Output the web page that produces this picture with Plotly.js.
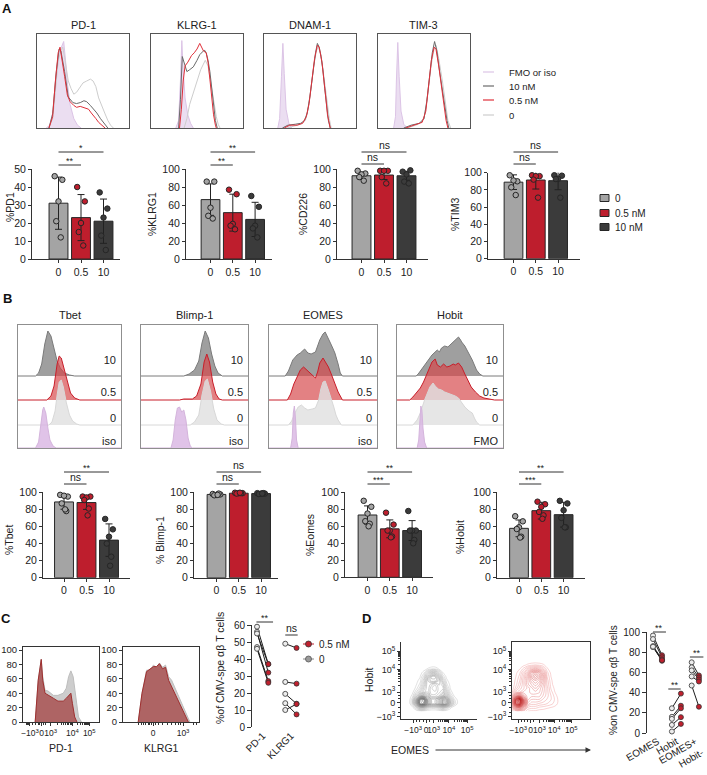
<!DOCTYPE html>
<html><head><meta charset="utf-8">
<script src="https://cdn.plot.ly/plotly-3.0.1.min.js"></script>
<style>html,body{margin:0;padding:0;background:#fff}#plot{width:707px;height:775px}</style>
</head><body><div id="plot"></div>
<script>
// ================= DATA =================
const groups = ['0', '0.5', '10'];
const legendA = ['FMO or iso', '10 nM', '0.5 nM', '0'];
const legendBars = ['0', '0.5 nM', '10 nM'];
const histA_titles = ['PD-1', 'KLRG-1', 'DNAM-1', 'TIM-3'];
const histB_titles = ['Tbet', 'Blimp-1', 'EOMES', 'Hobit'];
const ridgeLabels = ['10', '0.5', '0'];
const ridgeLastLabel = ['iso', 'iso', 'iso', 'FMO'];

// Panel A histograms [normalised fluorescence, % of max]
const hA_PD1_fmo = [[0.1,0],[0.14,3],[0.18,20],[0.21,55],[0.24,80],[0.27,88],[0.29,92],[0.31,72],[0.33,48],[0.36,25],[0.4,10],[0.44,3],[0.48,0]];
const hA_PD1_0 = [[0.13,0],[0.17,10],[0.2,40],[0.23,72],[0.26,82],[0.28,86],[0.3,75],[0.34,50],[0.37,42],[0.4,36],[0.43,38],[0.47,44],[0.5,48],[0.54,50],[0.58,52],[0.61,50],[0.64,44],[0.67,32],[0.7,24],[0.74,15],[0.77,8],[0.8,3],[0.83,0]];
const hA_PD1_10 = [[0.13,0],[0.17,15],[0.21,60],[0.24,84],[0.26,82],[0.3,60],[0.34,33],[0.39,27],[0.43,26],[0.47,27],[0.51,29],[0.54,28],[0.58,24],[0.62,20],[0.65,16],[0.69,10],[0.72,6],[0.75,2],[0.77,0]];
const hA_PD1_05 = [[0.13,0],[0.17,12],[0.2,50],[0.23,80],[0.25,86],[0.28,70],[0.3,55],[0.33,35],[0.36,28],[0.4,24],[0.43,22],[0.47,23],[0.5,22],[0.53,21],[0.56,20],[0.59,16],[0.61,14],[0.64,10],[0.67,6],[0.71,2],[0.74,0]];

const hA_KLRG_fmo = [[0.27,0],[0.3,8],[0.32,50],[0.335,93],[0.35,62],[0.37,32],[0.4,14],[0.43,5],[0.46,0]];
const hA_KLRG_0 = [[0.36,0],[0.39,10],[0.42,25],[0.45,34],[0.48,45],[0.51,52],[0.54,62],[0.57,68],[0.59,72],[0.62,66],[0.65,50],[0.68,30],[0.71,12],[0.73,4],[0.75,0]];
const hA_KLRG_10 = [[0.3,0],[0.32,30],[0.34,76],[0.36,70],[0.39,60],[0.42,62],[0.46,65],[0.5,72],[0.53,78],[0.56,81],[0.58,83],[0.6,80],[0.62,72],[0.64,60],[0.66,42],[0.68,20],[0.7,8],[0.72,0]];
const hA_KLRG_05 = [[0.31,0],[0.33,20],[0.35,50],[0.37,66],[0.4,70],[0.44,77],[0.47,80],[0.5,84],[0.53,90],[0.55,86],[0.57,82],[0.6,80],[0.62,70],[0.64,52],[0.66,32],[0.68,14],[0.7,3],[0.71,0]];

const hA_DNAM_fmo = [[0.15,0],[0.17,10],[0.19,55],[0.205,90],[0.22,58],[0.24,20],[0.27,5],[0.3,0]];
const hA_DNAM_0 = [[0.25,0],[0.33,2],[0.4,4],[0.45,8],[0.48,20],[0.51,42],[0.54,66],[0.57,82],[0.59,86],[0.62,78],[0.65,56],[0.68,30],[0.71,10],[0.73,0]];
const hA_DNAM_10 = [[0.2,0],[0.26,3],[0.34,4],[0.4,5],[0.44,8],[0.47,16],[0.5,34],[0.53,58],[0.56,80],[0.58,90],[0.6,86],[0.62,76],[0.64,62],[0.66,42],[0.68,22],[0.7,8],[0.72,0]];
const hA_DNAM_05 = [[0.22,0],[0.28,3],[0.36,3],[0.42,5],[0.46,12],[0.49,26],[0.52,50],[0.55,74],[0.58,88],[0.6,86],[0.63,70],[0.65,54],[0.67,34],[0.69,14],[0.71,3],[0.72,0]];

const hA_TIM3_fmo = [[0.17,0],[0.19,12],[0.2,50],[0.215,91],[0.23,55],[0.25,18],[0.28,4],[0.32,0]];
const hA_TIM3_0 = [[0.32,0],[0.44,4],[0.5,10],[0.54,35],[0.58,68],[0.61,84],[0.63,88],[0.66,74],[0.7,50],[0.73,28],[0.76,8],[0.79,0]];
const hA_TIM3_10 = [[0.28,0],[0.36,3],[0.45,5],[0.5,10],[0.53,28],[0.56,55],[0.59,80],[0.615,92],[0.64,82],[0.67,60],[0.7,40],[0.73,22],[0.75,8],[0.77,0]];
const hA_TIM3_05 = [[0.3,0],[0.4,3],[0.48,6],[0.52,18],[0.55,45],[0.58,72],[0.61,86],[0.63,84],[0.66,66],[0.69,45],[0.72,24],[0.74,8],[0.76,0]];

// Panel A bars
const A_PD1_mean = [31, 23, 21], A_PD1_sd = [14.5, 12.8, 12.3];
const A_PD1_p0 = [46, 44, 32, 21, 12], A_PD1_p05 = [40, 32, 20, 15, 7.5], A_PD1_p10 = [37, 28, 23, 13, 5];
const A_KLRG1_mean = [66, 51.5, 44], A_KLRG1_sd = [17.5, 20.5, 19];
const A_KLRG1_p0 = [86, 86, 57, 48, 45], A_KLRG1_p05 = [77, 72, 39, 37, 33], A_KLRG1_p10 = [70, 58, 37, 34, 24];
const A_CD226_mean = [92.5, 93.3, 92.5], A_CD226_sd = [4, 5, 5];
const A_CD226_p0 = [98, 95, 94, 91, 87], A_CD226_p05 = [98, 98, 98, 91, 84], A_CD226_p10 = [97, 98.5, 94, 86, 84];
const A_TIM3_mean = [89, 91.5, 90.7], A_TIM3_sd = [8.5, 10.5, 10.5];
const A_TIM3_p0 = [97, 90, 91, 83, 74], A_TIM3_p05 = [97, 96, 96, 92, 71], A_TIM3_p10 = [97, 96.5, 93, 92.6, 71];

// Panel B ridgelines [normalised fluorescence, height]
const bT_10 = [[0.17,0],[0.2,3],[0.23,12],[0.26,32],[0.29,45],[0.32,40],[0.35,28],[0.38,15],[0.41,8],[0.45,3],[0.5,1],[0.55,0]];
const bT_05 = [[0.28,0],[0.32,4],[0.35,14],[0.38,36],[0.4,44],[0.42,42],[0.45,30],[0.48,16],[0.51,7],[0.55,2],[0.6,0]];
const bT_0 = [[0.3,0],[0.33,3],[0.36,14],[0.38,30],[0.4,43],[0.42,45],[0.44,38],[0.47,22],[0.5,10],[0.53,4],[0.57,1],[0.6,0]];
const bT_iso = [[0.17,0],[0.2,6],[0.22,25],[0.24,38],[0.25,41],[0.27,35],[0.29,20],[0.31,8],[0.34,2],[0.37,0]];
const bB_10 = [[0.4,0],[0.45,2],[0.5,6],[0.54,15],[0.57,33],[0.6,45],[0.63,38],[0.66,22],[0.69,10],[0.72,3],[0.76,0]];
const bB_05 = [[0.36,0],[0.4,1],[0.48,1],[0.52,4],[0.56,16],[0.59,38],[0.615,46],[0.64,38],[0.67,18],[0.7,6],[0.73,1],[0.76,0]];
const bB_0 = [[0.46,0],[0.5,3],[0.54,10],[0.57,30],[0.6,44],[0.62,46],[0.65,34],[0.68,16],[0.71,5],[0.75,1],[0.78,0]];
const bB_iso = [[0.28,0],[0.3,8],[0.32,28],[0.34,40],[0.36,41],[0.38,36],[0.4,38],[0.42,28],[0.44,10],[0.46,2],[0.48,0]];
const bE_10 = [[0.15,0],[0.18,5],[0.22,16],[0.26,21],[0.29,23],[0.33,27],[0.36,23],[0.39,22],[0.43,24],[0.47,36],[0.5,42],[0.52,44],[0.54,40],[0.56,35],[0.59,28],[0.61,23],[0.64,12],[0.66,3],[0.68,0]];
const bE_05 = [[0.17,0],[0.2,6],[0.23,16],[0.26,23],[0.29,30],[0.32,33],[0.35,30],[0.38,27],[0.41,23],[0.43,22],[0.45,28],[0.47,37],[0.5,42],[0.52,38],[0.55,33],[0.58,25],[0.61,17],[0.64,8],[0.68,0]];
const bE_0 = [[0.18,0],[0.21,4],[0.24,12],[0.27,18],[0.3,20],[0.33,17],[0.36,15],[0.4,16],[0.43,17],[0.46,25],[0.48,36],[0.5,43],[0.52,44],[0.55,35],[0.58,26],[0.6,18],[0.62,10],[0.64,5],[0.67,0]];
const bE_iso = [[0.2,0],[0.215,10],[0.225,35],[0.235,42],[0.245,30],[0.255,8],[0.27,0]];
const bH_10 = [[0.18,0],[0.2,2],[0.24,8],[0.28,13],[0.33,21],[0.38,26],[0.4,24],[0.42,28],[0.45,30],[0.48,29],[0.5,31],[0.53,34],[0.56,36],[0.58,39],[0.6,36],[0.61,34],[0.64,30],[0.66,26],[0.69,20],[0.71,16],[0.75,6],[0.78,2],[0.81,0]];
const bH_05 = [[0.12,0],[0.15,3],[0.18,7],[0.22,12],[0.25,18],[0.29,28],[0.33,38],[0.36,41],[0.38,35],[0.41,33],[0.44,36],[0.47,33],[0.5,34],[0.53,36],[0.55,35],[0.58,37],[0.61,33],[0.64,26],[0.67,20],[0.7,13],[0.74,8],[0.78,4],[0.82,2],[0.88,1],[0.92,0]];
const bH_0 = [[0.15,0],[0.19,5],[0.22,12],[0.26,25],[0.29,34],[0.31,38],[0.34,42],[0.36,39],[0.39,36],[0.42,35],[0.45,33],[0.48,32],[0.52,30],[0.55,29],[0.58,27],[0.61,23],[0.64,18],[0.68,14],[0.71,12],[0.73,7],[0.75,3],[0.78,0]];
const bH_fmo = [[0.19,0],[0.205,8],[0.215,30],[0.225,42],[0.235,38],[0.245,20],[0.26,6],[0.28,0]];

// Panel B bars
const B_Tbet_mean = [88.7, 88, 44], B_Tbet_sd = [8.5, 8, 19];
const B_Tbet_p0 = [97, 95, 96, 87, 78, 80], B_Tbet_p05 = [95, 95, 94, 91, 81, 73], B_Tbet_p10 = [68.8, 56.6, 48, 40, 24.6, 14];
const B_Blimp_mean = [97.5, 99, 98.5], B_Blimp_sd = [1, 0.5, 0.5];
const B_Blimp_p0 = [98, 97.5, 97, 96.5, 98.5, 97], B_Blimp_p05 = [99.5, 99, 99, 98.5, 99, 99.5], B_Blimp_p10 = [99, 98.5, 98.5, 98, 99, 98.5];
const B_Eomes_mean = [73.3, 57, 55], B_Eomes_sd = [10.7, 10.5, 11.7];
const B_Eomes_p0 = [90, 83, 75, 66, 63, 60], B_Eomes_p05 = [76, 62, 55, 55, 48, 47], B_Eomes_p10 = [78, 55, 55, 55, 44, 40];
const B_Hobit_mean = [57.8, 78.5, 73.8], B_Hobit_sd = [9.8, 9.8, 14.5];
const B_Hobit_p0 = [72, 66, 59, 57, 48, 47], B_Hobit_p05 = [89, 86, 83, 77, 73, 69], B_Hobit_p10 = [90, 87, 79, 70, 59, 59];

// Panel C histograms [normalised fluorescence, count]
const cPD1_0 = [[0.16,0],[0.2,58],[0.24,87],[0.26,63],[0.29,44],[0.33,43],[0.4,37],[0.46,37],[0.53,40],[0.57,47],[0.6,63],[0.63,71],[0.66,63],[0.7,30],[0.73,7],[0.77,0]];
const cPD1_05 = [[0.16,0],[0.2,58],[0.24,87],[0.26,58],[0.29,40],[0.33,37],[0.4,33],[0.46,29],[0.53,29],[0.57,33],[0.6,37],[0.63,40],[0.65,26],[0.68,7],[0.71,0]];
const cKLRG1_0 = [[0.2,0],[0.25,40],[0.31,72],[0.36,72],[0.4,79],[0.44,76],[0.48,82],[0.52,76],[0.56,79],[0.6,63],[0.64,58],[0.7,44],[0.75,30],[0.82,14],[0.88,0]];
const cKLRG1_05 = [[0.2,0],[0.25,40],[0.31,70],[0.36,74],[0.4,77],[0.44,77],[0.48,81],[0.52,74],[0.56,76],[0.6,58],[0.64,49],[0.7,35],[0.75,23],[0.82,9],[0.86,0]];
// Panel C paired
const C_cats = ['PD-1', 'KLRG1'];
const C_PD1_0 = [59, 56, 55, 47, 46], C_PD1_05 = [37, 32, 37, 27, 26];
const C_KLRG1_0 = [49, 26.5, 19.5, 14, 10], C_KLRG1_05 = [46.5, 25.5, 13.7, 7.4, 13.5];

// Panel D contour density grids
const D_gray_x = [0.10,0.15,0.20,0.25,0.30,0.35,0.40,0.45,0.50,0.55,0.60,0.65,0.70,0.75,0.80];
const D_gray_y = [0.10,0.15,0.20,0.25,0.30,0.35,0.40,0.45,0.50,0.55,0.60,0.65,0.70,0.75];
const D_gray_z = [
 [0,0,0,0.3,0.3,0,0,0,0,0.2,0,0,0,0,0],
 [0,0.2,1.2,3,3,1.5,1,1,1.5,2.5,1.5,0.5,0,0,0],
 [0,1,4,8.5,9,6,4.5,4.5,5.5,7,6,3,1,0.2,0],
 [0,1,4,8.5,9.5,6,4.5,4.5,5.5,7,5.5,2.5,0.8,0.2,0],
 [0,0.5,2,4,5,4.5,3,3,3.5,4.5,3,1.2,0.3,0,0],
 [0,0.2,1,2,3,3.5,2.5,2.5,3,3.5,2,0.6,0,0,0],
 [0,0,0.5,1.2,2.5,3.5,2.5,2.2,3,3,1.3,0.3,0,0,0],
 [0,0,0.3,0.8,2,3.5,3,2.5,3.2,2.5,0.8,0.2,0,0,0],
 [0,0,0.2,0.5,1.6,3.5,4.5,4.5,3.5,1.8,0.5,0,0,0,0],
 [0,0,0,0.3,1.2,3,4.6,4.6,3,1,0.2,0,0,0,0],
 [0,0,0,0.1,0.6,1.8,2.8,2.8,1.6,0.4,0,0,0,0,0],
 [0,0,0,0,0.1,0.4,0.7,0.7,0.3,0,0,0,0,0,0],
 [0,0,0,0,0,0,0,0,0,0,0,0,0,0,0],
 [0,0,0,0,0,0,0,0,0,0,0,0,0,0,0]];
const D_red_x = [0,0.05,0.10,0.15,0.20,0.25,0.30,0.35,0.40,0.45,0.50,0.55,0.60,0.65,0.70];
const D_red_y = [0.10,0.15,0.20,0.25,0.30,0.35,0.40,0.45,0.50,0.55,0.60,0.65,0.70,0.75];
const D_red_z = [
 [0,1,1.5,1,0.3,0.2,0.2,0.1,0.1,0,0,0,0,0,0],
 [0.5,4,5,3,1,0.8,0.8,0.6,0.5,0.4,0.3,0.2,0,0,0],
 [1,9,11,6,2,1.5,1.5,1.3,1.2,1,0.8,0.5,0.2,0,0],
 [1,9,12,6,2.5,2,2,2,1.6,1.3,1,0.6,0.2,0,0],
 [0.5,4,5,3.5,2.5,2.5,2.5,2.5,2,1.5,1,0.5,0.1,0,0],
 [0.2,1.5,2,2.5,2.5,3,3,2.8,2.2,1.5,0.8,0.3,0,0,0],
 [0,0.8,1.5,2,2.5,3,3.5,3,2.3,1.5,0.6,0.2,0,0,0],
 [0,0.5,1.2,2,3,3.5,4,3.5,2.5,1.3,0.5,0,0,0,0],
 [0,0.4,1,2,3,4,4.5,4,2.8,1.2,0.4,0,0,0,0],
 [0,0.3,0.8,1.8,3,4.5,5.5,4.5,3,1,0.3,0,0,0,0],
 [0,0.2,0.6,1.5,2.5,4,4.5,4,2.5,0.8,0.2,0,0,0,0],
 [0,0,0.3,0.8,1.5,2,2.3,2,1.3,0.4,0,0,0,0,0],
 [0,0,0,0.2,0.4,0.6,0.7,0.6,0.4,0.1,0,0,0,0,0],
 [0,0,0,0,0,0,0,0,0,0,0,0,0,0,0]];
// Panel D paired
const D_cats = ['EOMES', 'Hobit', 'EOMES+<br>Hobit-'];
const D_EOMES_0 = [96.5, 93, 86, 85, 85.5], D_EOMES_05 = [77, 75, 73, 71.5, 72];
const D_Hobit_0 = [24.5, 16, 14, 8, 1.5], D_Hobit_05 = [39, 27, 24.5, 15.7, 9];
const D_EH_0 = [70, 65, 62, 56, 47], D_EH_05 = [57, 55, 53, 51, 26];

// ================= STYLE / HELPERS =================
const W = 707, H = 775;
const FONT = 'Liberation Sans, Arial, Helvetica, sans-serif';
const INK = '#222222';
const barColors = ['#a4a4a4', '#be1e2d', '#3b3b3b'];
const jitter = [-0.17, 0.17, 0.0, -0.1, 0.1, 0.05];
const traces = [];
const layout = {width: W, height: H, margin: {l:0, r:0, t:0, b:0}, showlegend: false,
  paper_bgcolor: '#fff', plot_bgcolor: 'rgba(0,0,0,0)', hovermode: false,
  font: {family: FONT, size: 10, color: INK}, annotations: [], shapes: []};
const px = x => x / W, py = y => 1 - y / H;
let nAx = 0;
function newAxes(x0, x1, y0, y1, xo, yo) {
  nAx++;
  const s = nAx === 1 ? '' : String(nAx);
  layout['xaxis' + s] = Object.assign({domain: [px(x0), px(x1)], anchor: 'y' + s, fixedrange: true, zeroline: false, showgrid: false}, xo);
  layout['yaxis' + s] = Object.assign({domain: [py(y1), py(y0)], anchor: 'x' + s, fixedrange: true, zeroline: false, showgrid: false}, yo);
  return {x: 'x' + s, y: 'y' + s};
}
function label(x, y, text, o) {
  layout.annotations.push(Object.assign({xref: 'paper', yref: 'paper', x: px(x), y: py(y), text: text,
    showarrow: false, xanchor: 'center', yanchor: 'middle', font: {size: 10.5, family: FONT, color: INK}}, o || {}));
}
function sigLine(xref, a, b, y, t) {
  layout.shapes.push({type: 'line', xref: xref, yref: 'paper', x0: a, x1: b, y0: py(y), y1: py(y), line: {color: '#333', width: 1}});
  const isStar = t.indexOf('*') >= 0;
  layout.annotations.push({xref: xref, yref: 'paper', x: (a + b) / 2, y: py(y), text: t, showarrow: false,
    xanchor: 'center', yanchor: 'bottom', yshift: isStar ? -3 : -1, font: {size: isStar ? 9 : 10.5, family: FONT, color: INK}});
}
const AXL = {showline: true, linecolor: '#333', linewidth: 1, ticks: 'outside', ticklen: 3, tickwidth: 1,
  tickcolor: '#333', tickfont: {size: 10.5, color: INK, family: FONT}};
const BOX = {showline: true, mirror: true, linecolor: '#555', linewidth: 1, ticks: '', showticklabels: false};

function histA(x0, x1, y0, y1, curves) {
  const ax = newAxes(x0, x1, y0, y1, Object.assign({range: [0, 1]}, BOX), Object.assign({range: [0, 100]}, BOX));
  const st = [
    {fill: 'toself', fillcolor: 'rgba(222,200,232,0.6)', line: '#dcc4e6'},
    {fill: 'none', line: '#cdcdcd'},
    {fill: 'none', line: '#6a6a6a'},
    {fill: 'none', line: '#e0303a'}];
  curves.forEach((c, i) => traces.push({type: 'scatter', mode: 'lines', x: c.map(d => d[0]), y: c.map(d => d[1]),
    fill: st[i].fill, fillcolor: st[i].fillcolor, line: {color: st[i].line, width: 1}, xaxis: ax.x, yaxis: ax.y}));
}

function barPanel(p) {
  const ax = newAxes(p.axisX, p.xEnd, p.yTop, p.yZero,
    Object.assign({}, AXL, {range: [(p.axisX - p.c0) / p.sp, (p.xEnd - p.c0) / p.sp], tickvals: [0, 1, 2], ticktext: groups, tickangle: 0}),
    Object.assign({}, AXL, {range: [0, p.ymax], dtick: p.dtick, tick0: 0}));
  traces.push({type: 'bar', x: [0, 1, 2], y: p.means, width: 0.84, xaxis: ax.x, yaxis: ax.y, cliponaxis: false,
    marker: {color: barColors, line: {color: '#262626', width: 1}},
    error_y: {type: 'data', array: p.sds, visible: true, color: '#222', thickness: 1, width: 3.5}});
  p.pts.forEach((vals, g) => traces.push({type: 'scatter', mode: 'markers', xaxis: ax.x, yaxis: ax.y, cliponaxis: false,
    x: vals.map((v, i) => g + jitter[i % jitter.length]), y: vals,
    marker: {size: 5.5, color: barColors[g], line: {color: '#262626', width: 1}}}));
  p.sig.forEach(s => sigLine(ax.x, s[0], s[1], s[2], s[3]));
  label(p.labX, p.labY, p.ylabel, {textangle: -90});
}

function ridge(p) {
  const h = p.y1 - p.y0;
  const ax = newAxes(p.x0, p.x1, p.y0, p.y1, Object.assign({range: [0, 1]}, BOX, {linecolor: '#8f8f8f'}),
    Object.assign({range: [0, h]}, BOX, {linecolor: '#8f8f8f'}));
  const st = [
    {base: 72, fill: 'rgba(138,138,138,0.82)', line: '#7a7a7a'},
    {base: 48, fill: 'rgba(214,70,72,0.68)', line: '#c81e2a'},
    {base: 23, fill: 'rgba(224,224,224,0.82)', line: '#d8d8d8'},
    {base: 0, fill: 'rgba(216,180,226,0.8)', line: '#d4b4dc'}];
  p.rows.forEach((r, i) => {
    const b = st[i].base;
    traces.push({type: 'scatter', mode: 'lines', xaxis: ax.x, yaxis: ax.y,
      x: [0].concat(r.map(d => d[0]), [1]), y: [b].concat(r.map(d => b + d[1]), [b]),
      fill: 'toself', fillcolor: st[i].fill, line: {color: st[i].line, width: 1}});
  });
  const lab = ridgeLabels.concat([p.last]);
  const xr = 1 - 5 / (p.x1 - p.x0);
  traces.push({type: 'scatter', mode: 'text', xaxis: ax.x, yaxis: ax.y, cliponaxis: false,
    x: lab.map(() => xr), y: [361, 393, 419, 442].map(v => p.y1 - v), text: lab,
    textposition: 'middle left', textfont: {size: 11, family: FONT, color: '#222222'}});
  label((p.x0 + p.x1) / 2, p.y0 - 10, p.title, {font: {size: 11, family: FONT, color: INK}});
}

function decade(p0, p1) { const r = []; for (let k = 2; k < 10; k++) r.push(p0 + Math.log10(k) * (p1 - p0)); return r; }
const SUP = n => '10<sup>' + n + '</sup>';
const NEG = '\u221210<sup>3</sup>';

function histC(x0, x1, y0, y1, curves, tv, tt, minor, title) {
  const ax = newAxes(x0, x1, y0, y1,
    Object.assign({}, AXL, {mirror: true, range: [0, 1], tickvals: tv, ticktext: tt, tickangle: 0, tickfont: {size: 8.5, color: INK, family: FONT},
      minor: {tickvals: minor, ticklen: 2, tickcolor: '#333', ticks: 'outside'}}),
    Object.assign({}, AXL, {mirror: true, range: [0, 104.2], dtick: 20, tickfont: {size: 9.5, color: INK, family: FONT}}));
  const st = [{fc: 'rgba(200,200,200,0.9)', lc: '#bdbdbd'}, {fc: 'rgba(165,70,70,0.78)', lc: '#9e2f2f'}];
  curves.forEach((c, i) => traces.push({type: 'scatter', mode: 'lines', xaxis: ax.x, yaxis: ax.y,
    x: c.map(d => d[0]), y: c.map(d => d[1]), fill: 'tozeroy', fillcolor: st[i].fc, line: {color: st[i].lc, width: 1}}));
  label((x0 + x1) / 2, 748, title, {font: {size: 10.5, family: FONT, color: INK}});
}

function paired(p) {
  const ax = newAxes(p.axisX, p.xEnd, p.yTop, p.yZero,
    {range: [(p.axisX - p.c0) / p.sp, (p.xEnd - p.c0) / p.sp], showline: false, ticks: '', tickvals: p.tickvals,
      ticktext: p.cats, tickangle: p.angle, tickfont: {size: 10, color: INK, family: FONT}},
    Object.assign({}, AXL, {range: [0, p.ymax], dtick: p.dtick, ticklen: 4, tickfont: {size: 10, color: INK, family: FONT}}));
  p.sets.forEach(s => {
    const xa = s[0], xb = s[1], v0 = s[2], v5 = s[3];
    const lx = [], ly = [];
    v0.forEach((v, i) => { lx.push(xa, xb, null); ly.push(v, v5[i], null); });
    traces.push({type: 'scatter', mode: 'lines', x: lx, y: ly, xaxis: ax.x, yaxis: ax.y, cliponaxis: false, line: {color: '#1e1e1e', width: 1}});
    traces.push({type: 'scatter', mode: 'markers', x: v0.map(() => xa), y: v0, xaxis: ax.x, yaxis: ax.y, cliponaxis: false,
      marker: {size: 5, color: '#ececec', line: {color: '#555', width: 1}}});
    traces.push({type: 'scatter', mode: 'markers', x: v5.map(() => xb), y: v5, xaxis: ax.x, yaxis: ax.y, cliponaxis: false,
      marker: {size: 5, color: '#c0202e', line: {color: '#333', width: 0.8}}});
  });
  p.sig.forEach(s => sigLine(ax.x, s[0], s[1], s[2], s[3]));
  label(p.labX, p.labY, p.ylabel, {textangle: -90, font: {size: p.labSize || 10.5, family: FONT, color: INK}});
}

function contourD(x0, x1, y0, y1, gx, gy, gz, colors, xtv, mirror, lvl) {
  const yt = [0.03, 0.21, 0.35, 0.64, 0.88];
  const ax = newAxes(x0, x1, y0, y1,
    Object.assign({}, AXL, {mirror: mirror, range: [0, 1], tickvals: xtv, ticktext: [NEG, '0', SUP(3), SUP(4), SUP(5)],
      tickangle: 0, tickfont: {size: 8.5, color: INK, family: FONT},
      minor: {tickvals: decade(xtv[2], xtv[3]).concat(decade(xtv[3], xtv[4]), [xtv[0] + 0.04, xtv[0] + 0.08, xtv[1] - 0.04, xtv[1] + 0.04]), ticklen: 2, ticks: 'outside', tickcolor: '#333'}}),
    Object.assign({}, AXL, {mirror: mirror, range: [0, 1], tickvals: yt, ticktext: [NEG, '0', SUP(3), SUP(4), SUP(5)],
      tickfont: {size: 9, color: INK, family: FONT},
      minor: {tickvals: decade(yt[2], yt[3]).concat(decade(yt[3], yt[4]), [0.09, 0.15, 0.26, 0.3]), ticklen: 2, ticks: 'outside', tickcolor: '#333'}}));
  traces.push({type: 'contour', x: gx, y: gy, z: gz, xaxis: ax.x, yaxis: ax.y, showscale: false,
    contours: {coloring: 'lines', start: lvl[0], end: lvl[1], size: lvl[2]},
    line: {width: 0.55, smoothing: 1.0}, colorscale: [[0, colors[0]], [1, colors[1]]]});
}

// ================= PANEL A =================
label(7, 9, '<b>A</b>', {font: {size: 13, family: FONT, color: '#111'}});
const histAData = [
  [hA_PD1_fmo, hA_PD1_0, hA_PD1_10, hA_PD1_05],
  [hA_KLRG_fmo, hA_KLRG_0, hA_KLRG_10, hA_KLRG_05],
  [hA_DNAM_fmo, hA_DNAM_0, hA_DNAM_10, hA_DNAM_05],
  [hA_TIM3_fmo, hA_TIM3_0, hA_TIM3_10, hA_TIM3_05]];
const histAx = [37, 151, 264, 378];
histAData.forEach((c, i) => {
  histA(histAx[i], histAx[i] + 92, 34, 128, c);
  label(histAx[i] + 46, 25, histA_titles[i], {font: {size: 11, family: FONT, color: INK}});
});
const legAcol = ['#dcc4e6', '#6a6a6a', '#e0303a', '#cdcdcd'];
[72, 86, 100, 115].forEach((y, i) => {
  layout.shapes.push({type: 'line', xref: 'paper', yref: 'paper', x0: px(483), x1: px(494), y0: py(y), y1: py(y), line: {color: legAcol[i], width: 1.2}});
  label(507, y, legendA[i], {xanchor: 'left', font: {size: 9.5, family: FONT, color: INK}});
});

barPanel({axisX: 32, xEnd: 120, c0: 58.5, sp: 22.5, yTop: 169, yZero: 259, ymax: 50, dtick: 10,
  means: A_PD1_mean, sds: A_PD1_sd, pts: [A_PD1_p0, A_PD1_p05, A_PD1_p10],
  sig: [[0, 1, 165, '**'], [0, 2, 152, '*']], ylabel: '%PD1', labX: 10, labY: 207});
barPanel({axisX: 186, xEnd: 272, c0: 210.5, sp: 22.3, yTop: 169, yZero: 259, ymax: 100, dtick: 20,
  means: A_KLRG1_mean, sds: A_KLRG1_sd, pts: [A_KLRG1_p0, A_KLRG1_p05, A_KLRG1_p10],
  sig: [[0, 1, 165, '**'], [0, 2, 152, '**']], ylabel: '%KLRG1', labX: 152, labY: 214});
barPanel({axisX: 337, xEnd: 428, c0: 361.5, sp: 22.5, yTop: 169, yZero: 259, ymax: 100, dtick: 20,
  means: A_CD226_mean, sds: A_CD226_sd, pts: [A_CD226_p0, A_CD226_p05, A_CD226_p10],
  sig: [[0, 1, 164, 'ns'], [0, 2, 152, 'ns']], ylabel: '%CD226', labX: 303, labY: 214});
barPanel({axisX: 488, xEnd: 580, c0: 513.5, sp: 22.3, yTop: 172.7, yZero: 258.7, ymax: 100, dtick: 20,
  means: A_TIM3_mean, sds: A_TIM3_sd, pts: [A_TIM3_p0, A_TIM3_p05, A_TIM3_p10],
  sig: [[0, 1, 164, 'ns'], [0, 2, 152, 'ns']], ylabel: '%TIM3', labX: 455, labY: 215});
[198, 213, 227].forEach((y, i) => {
  layout.shapes.push({type: 'rect', xref: 'paper', yref: 'paper', x0: px(600), x1: px(609), y0: py(y + 3.5), y1: py(y - 3.5),
    fillcolor: barColors[i], line: {color: '#262626', width: 1}});
  label(613, y, legendBars[i], {xanchor: 'left', font: {size: 10, family: FONT, color: INK}});
});

// ================= PANEL B =================
label(7, 298, '<b>B</b>', {font: {size: 13, family: FONT, color: '#111'}});
ridge({x0: 18, x1: 121, y0: 325, y1: 448, rows: [bT_10, bT_05, bT_0, bT_iso], last: ridgeLastLabel[0], title: histB_titles[0]});
ridge({x0: 141, x1: 248, y0: 325, y1: 448, rows: [bB_10, bB_05, bB_0, bB_iso], last: ridgeLastLabel[1], title: histB_titles[1]});
ridge({x0: 269, x1: 377, y0: 325, y1: 448, rows: [bE_10, bE_05, bE_0, bE_iso], last: ridgeLastLabel[2], title: histB_titles[2]});
ridge({x0: 397, x1: 503, y0: 325, y1: 448, rows: [bH_10, bH_05, bH_0, bH_fmo], last: ridgeLastLabel[3], title: histB_titles[3]});

barPanel({axisX: 43, xEnd: 130, c0: 64, sp: 22.5, yTop: 492.3, yZero: 577.7, ymax: 100, dtick: 20,
  means: B_Tbet_mean, sds: B_Tbet_sd, pts: [B_Tbet_p0, B_Tbet_p05, B_Tbet_p10],
  sig: [[0, 1, 484, 'ns'], [0, 2, 472, '**']], ylabel: '%Tbet', labX: 9, labY: 540});
barPanel({axisX: 194, xEnd: 278, c0: 216.5, sp: 22.3, yTop: 492.3, yZero: 577.7, ymax: 100, dtick: 20,
  means: B_Blimp_mean, sds: B_Blimp_sd, pts: [B_Blimp_p0, B_Blimp_p05, B_Blimp_p10],
  sig: [[0, 1, 484, 'ns'], [0, 2, 472, 'ns']], ylabel: '% Blimp-1', labX: 160, labY: 540});
barPanel({axisX: 345, xEnd: 433, c0: 367.5, sp: 22.3, yTop: 492.3, yZero: 577.3, ymax: 100, dtick: 20,
  means: B_Eomes_mean, sds: B_Eomes_sd, pts: [B_Eomes_p0, B_Eomes_p05, B_Eomes_p10],
  sig: [[0, 1, 484, '***'], [0, 2, 472, '**']], ylabel: '%Eomes', labX: 310, labY: 535});
barPanel({axisX: 497, xEnd: 585, c0: 519, sp: 22.3, yTop: 492.3, yZero: 577.7, ymax: 100, dtick: 20,
  means: B_Hobit_mean, sds: B_Hobit_sd, pts: [B_Hobit_p0, B_Hobit_p05, B_Hobit_p10],
  sig: [[0, 1, 484, '***'], [0, 2, 472, '**']], ylabel: '%Hobit', labX: 460, labY: 537});

// ================= PANEL C =================
label(6, 618, '<b>C</b>', {font: {size: 13, family: FONT, color: '#111'}});
const cTv1 = [0.092, 0.246, 0.364, 0.649, 0.872];
histC(23, 99, 647, 722, [cPD1_0, cPD1_05], cTv1, [NEG, '0', SUP(3), SUP(4), SUP(5)],
  decade(cTv1[2], cTv1[3]).concat(decade(cTv1[3], cTv1[4]), [0.13, 0.17, 0.2, 0.22, 0.27, 0.3], decade(cTv1[0] - 0.06, cTv1[0])), 'PD-1');
const cTv2 = [0.395, 0.79];
histC(123, 199, 647, 722, [cKLRG1_0, cKLRG1_05], cTv2, ['0', SUP(3)],
  [0.2, 0.24, 0.27, 0.3, 0.33, 0.35, 0.37, 0.43, 0.47, 0.52, 0.58, 0.64, 0.69, 0.73, 0.76, 0.93, 0.97], 'KLRG1');
paired({axisX: 252, xEnd: 302, c0: 257, sp: 11.3, yTop: 625, yZero: 727, ymax: 60, dtick: 10,
  tickvals: [0.5, 3], cats: C_cats, angle: -45,
  sets: [[0, 1, C_PD1_0, C_PD1_05], [2.5, 3.5, C_KLRG1_0, C_KLRG1_05]],
  sig: [[-0.05, 1.42, 622, '**'], [2.5, 3.6, 635, 'ns']],
  ylabel: '%of CMV-spe \u03b1\u03b2 T cells', labX: 220, labY: 668});
// legend C
[[644, '#c0202e', '#333', '0.5 nM', '#c0202e'], [659, '#9a9a9a', '#555', '0', '#888']].forEach(r => {
  layout.shapes.push({type: 'line', xref: 'paper', yref: 'paper', x0: px(303), x1: px(314), y0: py(r[0]), y1: py(r[0]), line: {color: r[4], width: 1}});
  layout.shapes.push({type: 'circle', xref: 'paper', yref: 'paper', x0: px(305.5), x1: px(311.5), y0: py(r[0] + 3), y1: py(r[0] - 3), fillcolor: r[1], line: {color: r[2], width: 0.8}});
  label(317, r[0], r[3], {xanchor: 'left', font: {size: 10, family: FONT, color: INK}});
});

// ================= PANEL D =================
label(366, 618, '<b>D</b>', {font: {size: 13, family: FONT, color: '#111'}});
contourD(401, 477, 642, 719, D_gray_x, D_gray_y, D_gray_z, ['#c8c8c8', '#5e5e5e'], [0.16, 0.33, 0.43, 0.63, 0.87], false, [0.35, 10, 0.35]);
contourD(512, 590, 642, 719, D_red_x, D_red_y, D_red_z, ['#f4b0b0', '#b81414'], [0.08, 0.24, 0.35, 0.54, 0.76], true, [0.3, 12, 0.35]);
label(369, 680, 'Hobit', {textangle: -90, font: {size: 10.5, family: FONT, color: INK}});
label(410, 750, 'EOMES', {font: {size: 10.5, family: FONT, color: INK}});
layout.annotations.push({xref: 'paper', yref: 'paper', x: px(591), y: py(750), ax: -157, ay: 0, axref: 'pixel', ayref: 'pixel',
  text: '', showarrow: true, arrowhead: 2, arrowsize: 1.1, arrowwidth: 1, arrowcolor: '#333'});
paired({axisX: 647, xEnd: 706, c0: 653, sp: 9, yTop: 632, yZero: 733, ymax: 100, dtick: 20,
  tickvals: [0.5, 2.6, 4.7], cats: D_cats, angle: -30,
  sets: [[0, 1, D_EOMES_0, D_EOMES_05], [2.1, 3.1, D_Hobit_0, D_Hobit_05], [4.3, 5.1, D_EH_0, D_EH_05]],
  sig: [[0, 1.44, 632, '**'], [1.7, 3.08, 689, '**'], [4.1, 5.6, 657, '**']],
  ylabel: '%on CMV-spe \u03b1\u03b2 T cells', labX: 613, labY: 680, labSize: 10});

Plotly.newPlot('plot', traces, layout, {staticPlot: true, displayModeBar: false});
</script>
</body></html>
